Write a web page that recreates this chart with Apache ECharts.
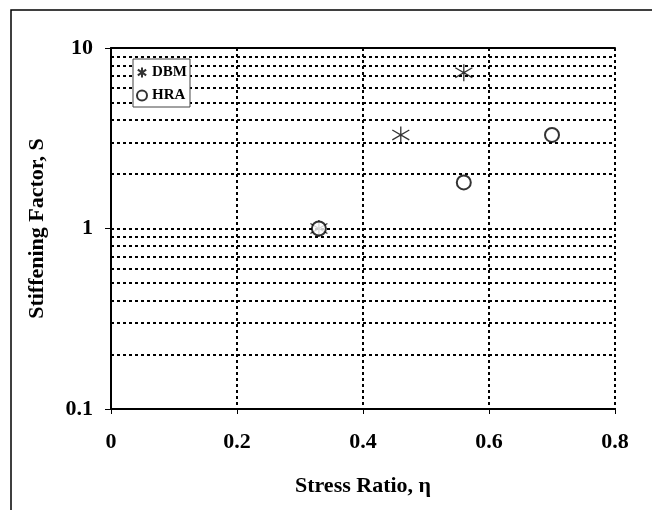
<!DOCTYPE html>
<html>
<head>
<meta charset="utf-8">
<script src="https://cdn.jsdelivr.net/npm/echarts@6/dist/echarts.min.js"></script>
<style>
  html, body { margin: 0; padding: 0; background: #fff; }
  #chart { width: 652px; height: 510px; }
</style>
</head>
<body>
<div id="chart"></div>
<script>
// data
const dbmPoints = [[0.33, 1.0], [0.46, 3.3], [0.56, 7.3]]
const hraPoints = [[0.33, 1.0], [0.56, 1.8], [0.70, 3.3]]
const xTicks = [0, 0.2, 0.4, 0.6, 0.8]
const yDecades = [0.1, 1, 10]
// dotted lines between the decades
const minorGrid = [0.2, 0.3, 0.4, 0.5, 0.6, 0.7, 0.8, 0.9, 2, 3, 4, 5, 6, 7, 8, 9]

const serif = '"Liberation Serif", "DejaVu Serif", serif'
const starPath = 'path://M6,0L6,12M1,2.5L11,9.5M1,9.5L11,2.5'
const dotted = { color: '#000', width: 2, type: [3, 3] }

const chart = echarts.init(document.getElementById('chart'))

const option = {
  animation: false,
  backgroundColor: '#fff',
  grid: {
    left: 111,
    right: 37,
    top: 48,
    bottom: 101
  },
  graphic: [
    {
      type: 'rect',
      shape: { x: 11, y: 10, width: 700, height: 600 },
      style: { fill: 'none', stroke: '#000', lineWidth: 1.5 },
      silent: true
    }
  ],
  legend: {
    orient: 'vertical',
    left: 133,
    top: 59,
    z: 20,
    padding: [6, 3, 4, 3],
    itemGap: 8,
    itemWidth: 10,
    itemHeight: 10,
    itemTextGap: 2,
    backgroundColor: '#fff',
    borderColor: '#444',
    borderWidth: 1,
    textStyle: { fontFamily: serif, fontWeight: 'bold', fontSize: 15, color: '#000' },
    data: [
      { name: 'DBM', icon: starPath },
      { name: 'HRA', icon: 'emptyCircle' }
    ]
  },
  xAxis: [
    {
      type: 'value',
      min: xTicks[0],
      max: xTicks[xTicks.length - 1],
      interval: 0.2,
      name: 'Stress Ratio, η',
      nameLocation: 'middle',
      nameGap: 66,
      nameTextStyle: { fontFamily: serif, fontWeight: 'bold', fontSize: 22, color: '#000' },
      axisLine: { lineStyle: { color: '#000', width: 2 } },
      axisTick: { length: 5, lineStyle: { color: '#000' } },
      axisLabel: {
        margin: 22,
        fontFamily: serif,
        fontWeight: 'bold',
        fontSize: 22,
        color: '#000',
        formatter: v => String(Math.round(v * 10) / 10)
      },
      splitLine: { show: true, lineStyle: dotted }
    },
    {
      type: 'value',
      position: 'top',
      min: xTicks[0],
      max: xTicks[xTicks.length - 1],
      interval: 0.2,
      axisLine: { lineStyle: { color: '#000', width: 2 } },
      axisTick: { show: false },
      axisLabel: { show: false },
      splitLine: { show: false }
    }
  ],
  yAxis: {
    type: 'log',
    logBase: 10,
    min: yDecades[0],
    max: yDecades[yDecades.length - 1],
    name: 'Stiffening Factor, S',
    nameLocation: 'middle',
    nameGap: 63,
    nameTextStyle: { fontFamily: serif, fontWeight: 'bold', fontSize: 22, color: '#000' },
    axisLine: { show: true, lineStyle: { color: '#000', width: 2 } },
    axisTick: { show: true, length: 6, lineStyle: { color: '#000' } },
    axisLabel: {
      margin: 18,
      fontFamily: serif,
      fontWeight: 'bold',
      fontSize: 22,
      color: '#000',
      formatter: v => String(v)
    },
    splitLine: { show: true, lineStyle: dotted }
  },
  series: [
    {
      name: 'grid',
      type: 'line',
      data: [],
      silent: true,
      z: 1,
      markLine: {
        silent: true,
        z: 1,
        symbol: 'none',
        label: { show: false },
        lineStyle: dotted,
        data: minorGrid.map(v => ({ yAxis: v }))
      }
    },
    {
      name: 'DBM',
      type: 'scatter',
      data: dbmPoints,
      symbol: starPath,
      symbolSize: 17,
      z: 3,
      itemStyle: { color: 'transparent', borderColor: '#000', borderWidth: 1.3 }
    },
    {
      name: 'HRA',
      type: 'scatter',
      data: hraPoints,
      symbol: 'emptyCircle',
      symbolSize: 14,
      z: 4,
      itemStyle: { color: '#000', borderWidth: 1.2 }
    }
  ]
}

chart.setOption(option)
</script>
</body>
</html>
